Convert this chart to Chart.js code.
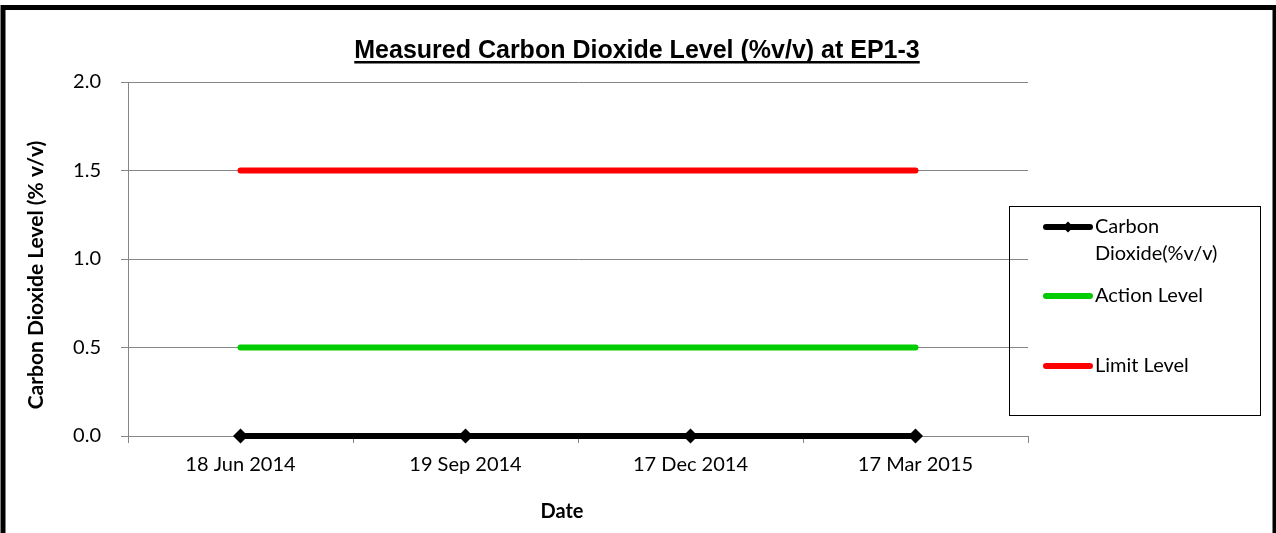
<!DOCTYPE html>
<html>
<head>
<meta charset="utf-8">
<script src="https://cdn.jsdelivr.net/npm/chart.js@4.4.1/dist/chart.umd.min.js"></script>
<style>
  html, body { margin: 0; padding: 0; background: #fff; }
  #wrap { width: 1276px; height: 533px; position: relative; }
</style>
</head>
<body>
<div id="wrap"><canvas id="c" width="1276" height="533"></canvas></div>
<script>
// ---- data ----
const categories = ["18 Jun 2014", "19 Sep 2014", "17 Dec 2014", "17 Mar 2015"];
const co2Values = [0, 0, 0, 0];
const actionLevel = [0.5, 0.5, 0.5, 0.5];
const limitLevel = [1.5, 1.5, 1.5, 1.5];
const yTicks = [0, 0.5, 1.0, 1.5, 2.0];
const chartTitle = "Measured Carbon Dioxide Level (%v/v) at EP1-3";
const yTitle = "Carbon Dioxide Level (% v/v)";
const xTitle = "Date";
const seriesNames = ["Carbon Dioxide(%v/v)", "Action Level", "Limit Level"];

const FONT = "Lato, 'Open Sans', sans-serif";
const GRID = "#868686";

const decor = {
  id: "decor",
  afterDraw(chart) {
    const ctx = chart.ctx;
    ctx.save();
    // outer frame
    ctx.strokeStyle = "#000";
    ctx.lineWidth = 5;
    ctx.strokeRect(3, 7.5, 1272, 600);

    // title with underline
    ctx.fillStyle = "#000";
    ctx.font = "bold 25px 'Liberation Sans', Arial, sans-serif";
    ctx.textAlign = "center";
    ctx.textBaseline = "alphabetic";
    const tx = 637, ty = 58;
    ctx.fillText(chartTitle, tx, ty);
    const tw = ctx.measureText(chartTitle).width;
    ctx.fillRect(tx - tw / 2, ty + 3, tw, 2.5);

    // axis titles
    ctx.font = "bold 20px " + FONT;
    ctx.textBaseline = "middle";
    ctx.fillText(xTitle, 562, 512);
    ctx.save();
    ctx.translate(36, 275);
    ctx.rotate(-Math.PI / 2);
    ctx.font = "bold 21px " + FONT;
    ctx.fillText(yTitle, 0, 0);
    ctx.restore();

    // legend
    const lx = 1009.5, ly = 206.5, lw = 251, lh = 209;
    ctx.lineWidth = 1;
    ctx.strokeStyle = "#000";
    ctx.strokeRect(lx, ly, lw, lh);
    const rowsY = [227, 296, 366];
    ctx.font = "20px " + FONT;
    ctx.textAlign = "left";
    chart.data.datasets.forEach((ds, i) => {
      const y = rowsY[i];
      ctx.strokeStyle = ds.borderColor;
      ctx.lineWidth = ds.borderWidth;
      ctx.lineCap = "round";
      ctx.beginPath();
      ctx.moveTo(1046, y);
      ctx.lineTo(1090, y);
      ctx.stroke();
      if (ds.pointRadius > 0) {
        ctx.fillStyle = ds.pointBackgroundColor;
        const r = 5.5;
        ctx.beginPath();
        ctx.moveTo(1068, y - r);
        ctx.lineTo(1068 + r, y);
        ctx.lineTo(1068, y + r);
        ctx.lineTo(1068 - r, y);
        ctx.closePath();
        ctx.fill();
      }
      // wrap text
      ctx.fillStyle = "#000";
      const words = ds.label.split(" ");
      const lines = [];
      let cur = "";
      words.forEach(w => {
        const t = cur ? cur + " " + w : w;
        if (ctx.measureText(t).width > 150 && cur) { lines.push(cur); cur = w; }
        else cur = t;
      });
      lines.push(cur);
      lines.forEach((ln, k) => ctx.fillText(ln, 1095, y + k * 27));
    });
    ctx.restore();
  }
};

new Chart(document.getElementById("c"), {
  type: "line",
  data: {
    labels: categories,
    datasets: [
      {
        label: seriesNames[0], data: co2Values,
        borderColor: "#000", backgroundColor: "#000",
        borderWidth: 6, pointStyle: "rectRot", pointRadius: 7.5,
        pointBackgroundColor: "#000", pointBorderColor: "#000", pointBorderWidth: 0,
        clip: false, order: 0
      },
      {
        label: seriesNames[1], data: actionLevel,
        borderColor: "#00CC00", backgroundColor: "#00CC00",
        borderWidth: 6, pointRadius: 0, borderCapStyle: "round", clip: false, order: 1
      },
      {
        label: seriesNames[2], data: limitLevel,
        borderColor: "#FF0000", backgroundColor: "#FF0000",
        borderWidth: 6, pointRadius: 0, borderCapStyle: "round", clip: false, order: 2
      }
    ]
  },
  options: {
    responsive: false,
    animation: false,
    layout: { padding: { left: 0, top: 82, right: 248, bottom: 57 } },
    plugins: { legend: { display: false }, title: { display: false }, tooltip: { enabled: false } },
    scales: {
      x: {
        offset: true,
        grid: { offset: true, drawOnChartArea: false, drawTicks: true, tickLength: 7, color: GRID, lineWidth: 1 },
        border: { color: GRID, width: 1 },
        ticks: { color: "#000", font: { family: FONT, size: 20 }, padding: 10, maxRotation: 0 },
        afterFit(s) { s.height = 40; }
      },
      y: {
        min: 0, max: 2,
        afterBuildTicks(s) { s.ticks = yTicks.map(v => ({ value: v })); },
        grid: { color: GRID, lineWidth: 1, tickLength: 7 },
        border: { color: GRID, width: 1 },
        ticks: { color: "#000", font: { family: FONT, size: 20 }, padding: 20,
                 callback: v => Number(v).toFixed(1) },
        afterFit(s) { s.width = 128; }
      }
    }
  },
  plugins: [decor]
});
</script>
</body>
</html>
